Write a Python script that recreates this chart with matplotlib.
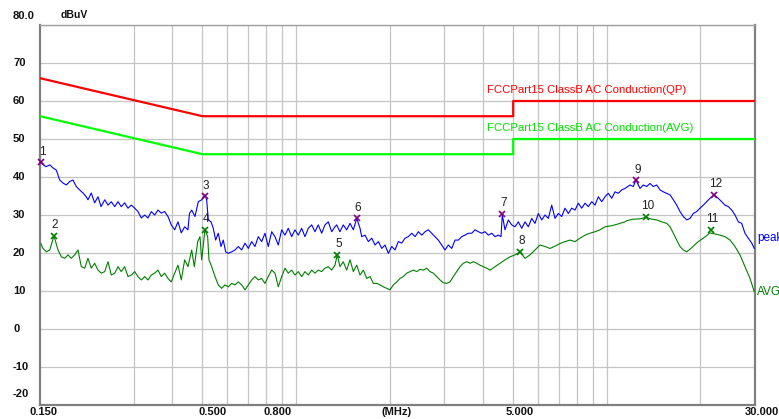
import matplotlib
matplotlib.use("Agg")
import matplotlib.pyplot as plt
from matplotlib import transforms

plt.rcParams['font.family'] = ['Liberation Sans', 'DejaVu Sans']

# ---------------- data ----------------
peak_freq = [0.1515, 0.1568, 0.1612, 0.1651, 0.1693, 0.1736, 0.1779, 0.1823, 0.1869, 0.1915,
             0.1962, 0.2012, 0.2062, 0.2113, 0.2140, 0.2193, 0.2249, 0.2305, 0.2358, 0.2423,
             0.2483, 0.2544, 0.2609, 0.2674, 0.2739, 0.2809, 0.2879, 0.2950, 0.3026, 0.3100,
             0.3178, 0.3259, 0.3339, 0.3422, 0.3509, 0.3596, 0.3684, 0.3779, 0.3872, 0.3968,
             0.4070, 0.4170, 0.4273, 0.4382, 0.4490, 0.4540, 0.4616, 0.4730, 0.4847, 0.4970,
             0.5094, 0.5158, 0.5220, 0.5326, 0.5417, 0.5513, 0.5622, 0.5735, 0.5833, 0.5937,
             0.6053, 0.6208, 0.6362, 0.6519, 0.6686, 0.6852, 0.7021, 0.7199, 0.7378, 0.7560,
             0.7753, 0.7945, 0.8142, 0.8350, 0.8557, 0.8769, 0.8992, 0.9215, 0.9443, 0.9683,
             0.9923, 1.0169, 1.0428, 1.0686, 1.0951, 1.1230, 1.1508, 1.1793, 1.2094, 1.2393,
             1.2700, 1.3023, 1.3346, 1.3515, 1.3849, 1.4192, 1.4554, 1.4922, 1.5292, 1.5682,
             1.607, 1.627, 1.668, 1.709, 1.753, 1.796, 1.841, 1.888, 1.934, 1.982,
             2.032, 2.083, 2.134, 2.188, 2.243, 2.298, 2.358, 2.416, 2.476, 2.539,
             2.602, 2.666, 2.733, 2.801, 2.870, 2.944, 3.017, 3.092, 3.171, 3.249,
             3.330, 3.414, 3.498, 3.585, 3.677, 3.768, 3.862, 3.960, 4.058, 4.158,
             4.265, 4.370, 4.478, 4.568, 4.612, 4.705, 4.822, 4.945, 5.068, 5.193,
             5.326, 5.458, 5.593, 5.735, 5.877, 6.023, 6.176, 6.330, 6.486, 6.651,
             6.816, 6.985, 7.163, 7.340, 7.522, 7.714, 7.905, 8.101, 8.307, 8.513,
             8.724, 8.946, 9.168, 9.395, 9.634, 9.873, 10.117, 10.375, 10.632, 10.896,
             11.173, 11.450, 11.881, 12.176, 12.416, 12.795, 13.112, 13.446, 13.779, 14.121,
             14.480, 14.839, 15.207, 15.594, 15.98, 16.38, 16.79, 17.21, 17.64, 18.09,
             18.53, 18.99, 19.47, 19.96, 20.46, 20.98, 21.49, 22.19, 22.84, 23.44,
             24.02, 24.62, 25.25, 25.87, 26.51, 27.18, 27.85, 28.54, 29.28, 29.84]
peak_level = [43.6, 42.7, 43.2, 42.4, 41.8, 39.2, 38.4, 37.9, 38.8, 39.2,
              37.5, 36.6, 35.8, 34.8, 34.0, 35.8, 33.2, 34.8, 32.2, 34.0,
              32.6, 33.5, 32.2, 33.5, 32.2, 33.2, 31.8, 32.6, 31.8, 30.9,
              29.2, 30.0, 29.2, 30.9, 30.0, 31.3, 30.5, 30.9, 29.6, 27.4,
              26.1, 28.2, 25.3, 26.9, 26.1, 30.4, 31.3, 29.6, 33.5, 34.0,
              35.3, 34.0, 28.7, 28.2, 26.5, 23.4, 25.2, 21.7, 23.4, 20.3,
              19.9, 20.3, 20.8, 21.7, 20.8, 22.6, 21.2, 23.0, 21.7, 24.3,
              23.0, 25.2, 21.7, 25.6, 24.3, 22.1, 26.1, 24.7, 26.5, 24.3,
              26.1, 24.7, 26.5, 24.3, 26.5, 27.4, 25.6, 27.4, 25.2, 27.4,
              28.2, 25.6, 26.9, 27.4, 25.6, 27.4, 26.1, 27.8, 26.1, 29.1,
              26.5, 24.3, 24.7, 23.0, 23.9, 22.1, 23.0, 21.2, 22.1, 19.9,
              21.7, 20.8, 23.0, 22.6, 23.9, 24.3, 25.2, 24.3, 25.6, 24.7,
              25.6, 26.1, 25.2, 24.3, 23.4, 22.1, 20.8, 22.1, 21.2, 23.4,
              23.4, 24.3, 24.7, 25.2, 25.2, 26.1, 25.6, 25.2, 25.6, 24.7,
              25.2, 24.3, 24.7, 24.3, 30.0, 26.1, 28.7, 27.4, 26.9, 28.2,
              26.5, 28.2, 26.9, 29.1, 27.8, 30.4, 28.7, 30.0, 29.1, 32.6,
              29.1, 30.4, 29.6, 31.8, 30.4, 31.8, 31.3, 33.1, 31.8, 33.1,
              32.2, 33.5, 32.6, 34.8, 33.5, 34.8, 35.7, 34.4, 36.1, 35.7,
              36.6, 37.0, 37.9, 37.5, 39.2, 37.0, 37.9, 37.5, 38.3, 37.5,
              37.9, 36.6, 36.1, 35.7, 35.3, 34.0, 32.6, 30.9, 29.6, 28.7,
              29.1, 30.4, 30.9, 31.8, 32.6, 33.5, 34.4, 35.3, 34.4, 33.5,
              32.6, 32.2, 31.3, 30.0, 28.2, 27.8, 25.2, 23.9, 22.6, 21.2]

avg_freq = [0.1508, 0.1534, 0.1572, 0.1612, 0.1664, 0.1714, 0.1757, 0.1802, 0.1846, 0.1891,
            0.1940, 0.1987, 0.2037, 0.2089, 0.2140, 0.2193, 0.2249, 0.2305, 0.2363, 0.2423,
            0.2483, 0.2544, 0.2609, 0.2674, 0.2739, 0.2809, 0.2879, 0.2950, 0.3026, 0.3100,
            0.3178, 0.3259, 0.3339, 0.3422, 0.3509, 0.3596, 0.3684, 0.3779, 0.3872, 0.3968,
            0.4070, 0.4170, 0.4273, 0.4382, 0.4490, 0.4616, 0.4706, 0.4826, 0.4908, 0.4970,
            0.5094, 0.5196, 0.5247, 0.5353, 0.5486, 0.5622, 0.5764, 0.5907, 0.6053, 0.6208,
            0.6362, 0.6519, 0.6686, 0.6852, 0.7021, 0.7199, 0.7378, 0.7560, 0.7753, 0.7945,
            0.8142, 0.8350, 0.8557, 0.8769, 0.8992, 0.9215, 0.9443, 0.9683, 0.9923, 1.0169,
            1.0428, 1.0686, 1.0951, 1.1230, 1.1508, 1.1793, 1.2094, 1.2393, 1.2700, 1.3023,
            1.3346, 1.3575, 1.3849, 1.4192, 1.4554, 1.4922, 1.5292, 1.5682, 1.607, 1.647,
            1.689, 1.731, 1.774, 1.819, 1.864, 1.910, 1.959, 2.007, 2.057, 2.109,
            2.161, 2.215, 2.271, 2.328, 2.386, 2.447, 2.507, 2.569, 2.635, 2.699,
            2.766, 2.836, 2.907, 2.979, 3.055, 3.131, 3.209, 3.290, 3.371, 3.455,
            3.543, 3.631, 3.721, 3.816, 3.910, 4.007, 4.109, 4.211, 4.370, 4.534,
            4.705, 4.883, 5.068, 5.259, 5.458, 5.663, 5.877, 6.099, 6.330, 6.568,
            6.816, 7.073, 7.340, 7.617, 7.905, 8.203, 8.513, 8.834, 9.168, 9.513,
            9.873, 10.245, 10.632, 11.033, 11.450, 11.595, 12.176, 12.795, 13.377, 13.954,
            14.480, 15.027, 15.594, 15.98, 16.38, 16.79, 17.21, 17.64, 18.09, 18.53,
            18.99, 19.71, 20.46, 21.49, 22.30, 23.15, 24.02, 24.93, 25.87, 26.84,
            27.85, 28.91, 29.84]
avg_level = [22.5, 21.2, 20.3, 20.8, 24.5, 20.8, 19.0, 18.6, 19.5, 18.6,
             19.5, 20.8, 16.4, 16.0, 18.6, 16.0, 17.3, 15.5, 14.7, 15.1,
             17.7, 14.2, 14.7, 16.4, 15.1, 16.4, 13.8, 14.2, 15.1, 13.8,
             12.9, 13.8, 12.9, 14.2, 14.7, 15.5, 13.8, 14.7, 13.3, 12.4,
             14.7, 16.8, 12.9, 18.2, 16.4, 20.8, 16.4, 23.0, 24.3, 18.2,
             26.1, 24.3, 18.2, 16.4, 13.8, 11.6, 10.7, 11.6, 11.1, 12.0,
             11.6, 12.4, 11.6, 10.3, 11.6, 12.9, 13.8, 12.9, 13.3, 12.0,
             13.8, 15.5, 14.7, 11.1, 13.8, 16.0, 14.7, 15.5, 14.2, 15.1,
             13.8, 15.1, 14.2, 15.5, 14.7, 15.5, 15.1, 16.0, 16.4, 15.5,
             16.8, 19.5, 16.4, 17.7, 15.5, 18.2, 15.1, 16.8, 14.2, 15.5,
             13.3, 13.8, 12.0, 12.0, 11.6, 11.1, 10.7, 10.3, 11.6, 12.4,
             13.3, 13.8, 14.7, 15.1, 15.5, 15.1, 15.7, 15.5, 16.0, 15.1,
             14.7, 13.8, 12.9, 12.2, 12.0, 12.4, 13.8, 15.1, 16.4, 17.3,
             17.7, 17.3, 17.7, 17.3, 16.8, 16.4, 16.0, 15.5, 16.4, 17.3,
             18.2, 19.0, 19.5, 20.3, 18.6, 19.5, 20.8, 22.1, 21.7, 21.2,
             21.8, 22.5, 23.0, 23.4, 23.0, 23.9, 24.7, 25.2, 25.6, 26.1,
             26.9, 27.1, 27.4, 27.8, 28.2, 28.5, 28.9, 29.0, 29.4, 28.9,
             28.7, 28.2, 27.8, 26.9, 25.2, 23.4, 21.7, 20.8, 20.3, 21.0,
             21.8, 23.0, 23.9, 25.3, 25.0, 24.7, 24.3, 23.4, 21.7, 19.5,
             16.4, 13.3, 9.8]

# limit lines
limit_freq = [0.15, 0.5, 0.5, 5.0, 5.0, 30.0]
qp_limit = [66, 56, 56, 56, 60, 60]
avg_limit = [56, 46, 46, 46, 50, 50]

# marker table
mk_label = ['1', '2', '3', '4', '5', '6', '7', '8', '9', '10', '11', '12']
mk_freq = [0.1515, 0.166, 0.509, 0.509, 1.357, 1.568, 4.61, 5.26, 12.42, 13.38, 21.6, 22.19]
mk_level = [43.9, 24.5, 35.0, 26.1, 19.5, 29.2, 30.3, 20.3, 39.2, 29.5, 26.1, 35.3]
mk_kind = ['peak', 'avg', 'peak', 'avg', 'avg', 'peak', 'peak', 'avg', 'peak', 'avg', 'avg', 'peak']

ytick_vals = [80, 70, 60, 50, 40, 30, 20, 10, 0, -10, -20]
ytick_text = ['80.0', '70', '60', '50', '40', '30', '20', '10', '0', '-10', '-20']
xgrid = [0.3, 0.4, 0.5, 0.6, 0.7, 0.8, 0.9, 1, 2, 3, 4, 5, 6, 7, 8, 9, 10, 20]
xtick_text = ['0.150', '0.500', '0.800', '(MHz)', '5.000', '30.000']
xtick_pos = [0.1545, 0.537, 0.875, 2.10, 5.26, 27.9]

# ---------------- figure ----------------
W, H = 779, 419
fig = plt.figure(figsize=(W / 100, H / 100), dpi=100)
fig.patch.set_facecolor('white')
ax = fig.add_axes([40 / W, 14 / H, 715 / W, 380 / H])
ax.set_xscale('log')
ax.set_xlim(0.15, 30)
ax.set_ylim(-20, 80)
ax.xaxis.set_major_locator(matplotlib.ticker.NullLocator())
ax.xaxis.set_minor_locator(matplotlib.ticker.NullLocator())
ax.yaxis.set_major_locator(matplotlib.ticker.NullLocator())
ax.yaxis.set_minor_locator(matplotlib.ticker.NullLocator())

gcol = '#c4c4c4'
for v in ytick_vals:
    ax.axhline(v, color=gcol, lw=0.9, zorder=0)
for f in xgrid:
    ax.axvline(f, color=gcol, lw=0.9, zorder=0)

for s in ['left', 'bottom', 'right']:
    ax.spines[s].set_color('#808080')
    ax.spines[s].set_linewidth(1.6)
ax.spines['top'].set_color('#a0a0a0')
ax.spines['top'].set_linewidth(1.0)

# limits
ax.plot(limit_freq, qp_limit, color='#ff0000', lw=1.6, zorder=3)
ax.plot(limit_freq, avg_limit, color='#00ff00', lw=1.6, zorder=3)

# traces
ax.plot(avg_freq, avg_level, color='#008000', lw=0.8, zorder=4)
ax.plot(peak_freq, peak_level, color='#0000ff', lw=0.8, zorder=5)

# markers
for lab, f, v, k in zip(mk_label, mk_freq, mk_level, mk_kind):
    c = '#800080' if k == 'peak' else '#008000'
    ax.plot([f], [v], marker='x', color=c, ms=5, mew=1.2, zorder=6, clip_on=False)
    ax.annotate(lab, (f, v), xytext=(1, 7.5), textcoords='offset points',
                ha='center', va='center', fontsize=8.5, color='#202020', zorder=7,
                annotation_clip=False)

# limit labels
ax.text(487 / W, 90, '', transform=fig.transFigure)
fig.text(487 / W, 1 - 90 / H, 'FCCPart15 ClassB AC Conduction(QP)', color='#ff0000',
         fontsize=8.2, ha='left', va='center')
fig.text(487 / W, 1 - 128 / H, 'FCCPart15 ClassB AC Conduction(AVG)', color='#00e000',
         fontsize=8.2, ha='left', va='center')

# trace names at right edge
fig.text(757 / W, 1 - 238 / H, 'peak', color='#0000ff', fontsize=8.5, ha='left', va='center')
fig.text(757 / W, 1 - 292 / H, 'AVG', color='#008000', fontsize=8.5, ha='left', va='center')

# y tick labels
ytrans = transforms.blended_transform_factory(fig.transFigure, ax.transData)
for v, t in zip(ytick_vals, ytick_text):
    yy = v
    if v == 80:
        yy = v + 9 / 3.8
    elif v == -20:
        yy = v + 11 / 3.8
    ax.text(13 / W, yy, t, transform=ytrans, ha='left', va='center', fontsize=8,
            fontweight='bold', color='#101010', clip_on=False)
fig.text(61 / W, 1 - 15 / H, 'dBuV', fontsize=7.5, fontweight='bold', ha='left', va='center',
         color='#101010')

# x tick labels
xtrans = transforms.blended_transform_factory(ax.transData, fig.transFigure)
for f, t in zip(xtick_pos, xtick_text):
    ha = 'left' if t == '30.000' else 'center'
    ax.text(f, 1 - 412 / H, t, transform=xtrans, ha=ha, va='center', fontsize=8,
            fontweight='bold', color='#101010', clip_on=False)

fig.savefig('out.png', dpi=100, facecolor='white')
